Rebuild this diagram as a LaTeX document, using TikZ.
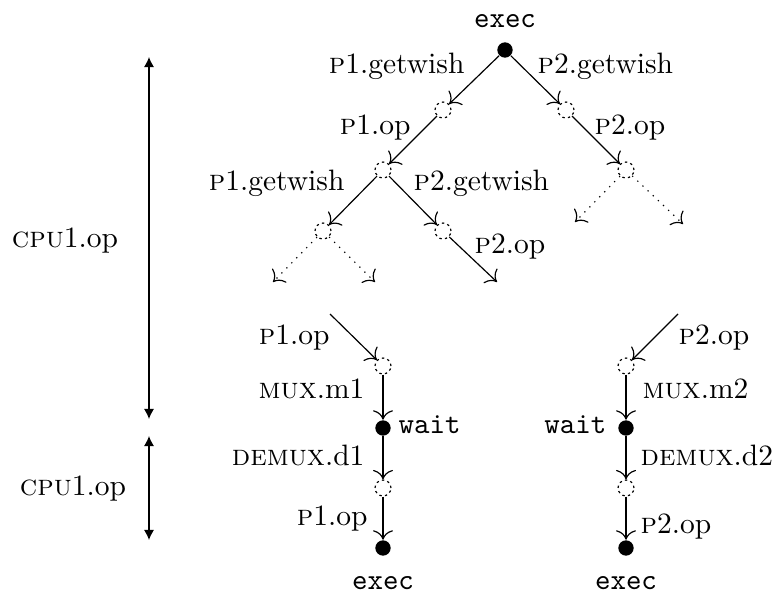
\documentclass[tikz,border=0pt]{standalone}
\usetikzlibrary{arrows.meta}
\begin{document}
\begin{tikzpicture}[x=0.339pt,y=-0.339pt,
  full/.style={circle,fill=black,inner sep=0pt,minimum size=5.2pt},
  hollow/.style={circle,draw,dash pattern=on 0.8pt off 1.1pt,inner sep=0pt,minimum size=5.4pt},
  edge/.style={-{To[scale=1.3]}},
  dedge/.style={-{To[scale=1.3]},dotted},
  lblL/.style={anchor=base east,inner sep=0pt},
  lblR/.style={anchor=base west,inner sep=0pt},
  lblC/.style={anchor=base,inner sep=0pt},
  span/.style={{Latex[length=3.4pt,width=3.4pt]}-{Latex[length=3.4pt,width=3.4pt]}}]
\useasboundingbox (0,0) rectangle (773,597);
% tree nodes
\node[full] (root) at (505,50) {};
\node[hollow] (a) at (443,110) {};
\node[hollow] (b) at (566,110) {};
\node[hollow] (c) at (383,170) {};
\node[hollow] (d) at (626,170) {};
\node[hollow] (e) at (323,231) {};
\node[hollow] (f) at (443,231) {};
\coordinate (e1) at (273,282);
\coordinate (e2) at (375,282);
\coordinate (f1) at (497,282);
\coordinate (d1) at (575,222);
\coordinate (d2) at (683,224);
% bottom columns
\coordinate (s1) at (330,314);
\node[hollow] (g1) at (383,366) {};
\node[full] (w1) at (383,428) {};
\node[hollow] (h1) at (383,488) {};
\node[full] (x1) at (383,548) {};
\coordinate (s2) at (678,314);
\node[hollow] (g2) at (626,366) {};
\node[full] (w2) at (626,428) {};
\node[hollow] (h2) at (626,488) {};
\node[full] (x2) at (626,548) {};
% edges
\draw[edge] (root) -- (a);
\draw[edge] (root) -- (b);
\draw[edge] (a) -- (c);
\draw[edge] (b) -- (d);
\draw[edge] (c) -- (e);
\draw[edge] (c) -- (f);
\draw[dedge] (e) -- (e1);
\draw[dedge] (e) -- (e2);
\draw[edge] (f) -- (f1);
\draw[dedge] (d) -- (d1);
\draw[dedge] (d) -- (d2);
\draw[edge] (s1) -- (g1);
\draw[edge] (g1) -- (w1);
\draw[edge] (w1) -- (h1);
\draw[edge] (h1) -- (x1);
\draw[edge] (s2) -- (g2);
\draw[edge] (g2) -- (w2);
\draw[edge] (w2) -- (h2);
\draw[edge] (h2) -- (x2);
% labels
\node[lblC] (t0) at (505,27) {\texttt{exec}};
\node[lblL] (l1) at (465,73) {\textsc{p}1.getwish};
\node[lblR] (l2) at (537,73) {\textsc{p}2.getwish};
\node[lblL] (l3) at (411,134) {\textsc{p}1.op};
\node[lblR] (l4) at (594,134) {\textsc{p}2.op};
\node[lblL] (l5) at (345,190) {\textsc{p}1.getwish};
\node[lblR] (l6) at (413,190) {\textsc{p}2.getwish};
\node[lblR] (l7) at (474,253) {\textsc{p}2.op};
\node[lblL] (l8) at (330,344) {\textsc{p}1.op};
\node[lblL] (l9) at (365,398) {\textsc{mux}.m1};
\node[lblR] (l10) at (398,433) {\texttt{wait}};
\node[lblL] (l11) at (365,465) {\textsc{demux}.d1};
\node[lblL] (l12) at (368,525) {\textsc{p}1.op};
\node[lblC] (l13) at (383,589) {\texttt{exec}};
\node[lblR] (r8) at (678,344) {\textsc{p}2.op};
\node[lblR] (r9) at (642,398) {\textsc{mux}.m2};
\node[lblL] (r10) at (607,433) {\texttt{wait}};
\node[lblR] (r11) at (640,465) {\textsc{demux}.d2};
\node[lblR] (r12) at (640,533) {\textsc{p}2.op};
\node[lblC] (r13) at (626,589) {\texttt{exec}};
% spans
\coordinate (p1) at (149,57);
\coordinate (p2) at (149,419);
\coordinate (p3) at (149,436);
\coordinate (p4) at (149,540);
\draw[span] (p1) -- (p2);
\draw[span] (p3) -- (p4);
\node[lblC] (c1) at (65,247) {\textsc{cpu}1.op};
\node[lblC] (c2) at (73,495) {\textsc{cpu}1.op};
\end{tikzpicture}
\end{document}
